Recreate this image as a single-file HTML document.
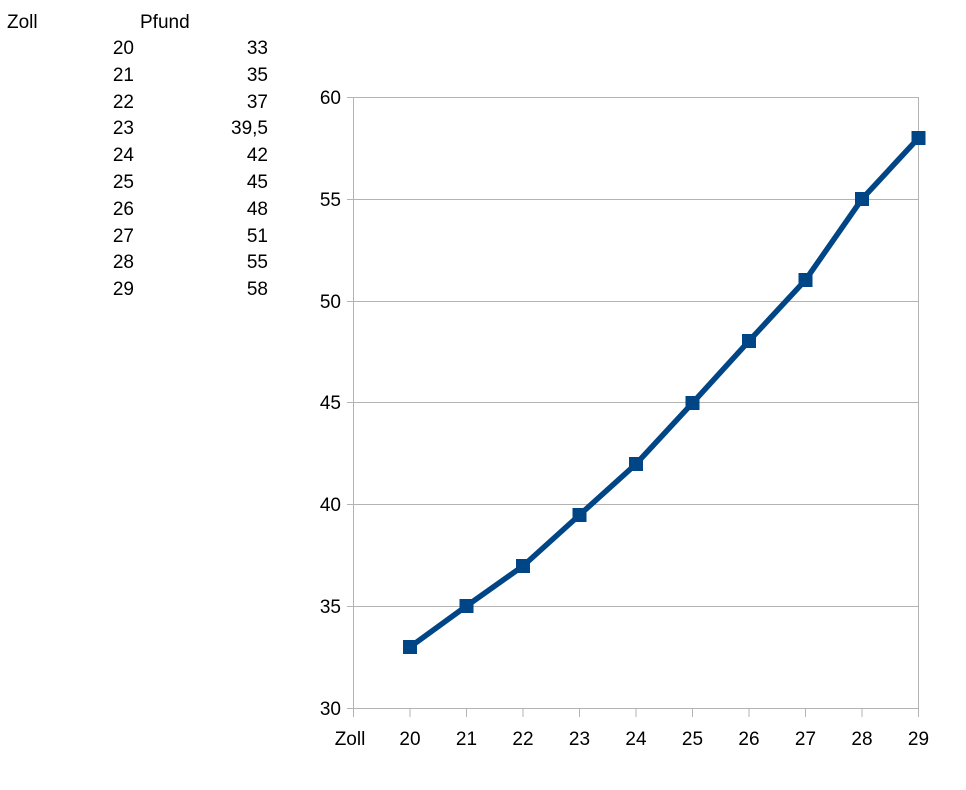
<!DOCTYPE html>
<html><head><meta charset="utf-8"><style>
html,body{margin:0;padding:0;background:#fff;}
svg{display:block;font-family:"Liberation Sans",Arial,sans-serif;}
</style></head><body>
<svg width="966" height="790" xmlns="http://www.w3.org/2000/svg">
<g font-size="19" fill="#000">
<text x="7" y="28">Zoll</text>
<text x="140" y="28">Pfund</text>
<g text-anchor="end">
<text x="134" y="54">20</text><text x="268" y="54">33</text>
<text x="134" y="81">21</text><text x="268" y="81">35</text>
<text x="134" y="108">22</text><text x="268" y="108">37</text>
<text x="134" y="134">23</text><text x="268" y="134">39,5</text>
<text x="134" y="161">24</text><text x="268" y="161">42</text>
<text x="134" y="188">25</text><text x="268" y="188">45</text>
<text x="134" y="215">26</text><text x="268" y="215">48</text>
<text x="134" y="242">27</text><text x="268" y="242">51</text>
<text x="134" y="268">28</text><text x="268" y="268">55</text>
<text x="134" y="295">29</text><text x="268" y="295">58</text>
</g>
</g>
<g stroke="#b3b3b3" stroke-width="1">
<line x1="347" y1="97.5" x2="918.5" y2="97.5"/>
<line x1="347" y1="199.5" x2="918.5" y2="199.5"/>
<line x1="347" y1="301.5" x2="918.5" y2="301.5"/>
<line x1="347" y1="402.5" x2="918.5" y2="402.5"/>
<line x1="347" y1="504.5" x2="918.5" y2="504.5"/>
<line x1="347" y1="606.5" x2="918.5" y2="606.5"/>
<line x1="347" y1="708.5" x2="918.5" y2="708.5"/>
<line x1="353.5" y1="97" x2="353.5" y2="717"/>
<line x1="918.5" y1="97" x2="918.5" y2="717"/>
<line x1="410" y1="708" x2="410" y2="717"/>
<line x1="466.5" y1="708" x2="466.5" y2="717"/>
<line x1="523" y1="708" x2="523" y2="717"/>
<line x1="579.5" y1="708" x2="579.5" y2="717"/>
<line x1="636" y1="708" x2="636" y2="717"/>
<line x1="692.5" y1="708" x2="692.5" y2="717"/>
<line x1="749" y1="708" x2="749" y2="717"/>
<line x1="805.5" y1="708" x2="805.5" y2="717"/>
<line x1="862" y1="708" x2="862" y2="717"/>
</g>
<g font-size="19" text-anchor="end">
<text x="341" y="104">60</text>
<text x="341" y="206">55</text>
<text x="341" y="308">50</text>
<text x="341" y="409">45</text>
<text x="341" y="511">40</text>
<text x="341" y="613">35</text>
<text x="341" y="715">30</text>
</g>
<g font-size="19" text-anchor="middle">
<text x="350" y="745">Zoll</text>
<text x="410" y="745">20</text>
<text x="466.5" y="745">21</text>
<text x="523" y="745">22</text>
<text x="579.5" y="745">23</text>
<text x="636" y="745">24</text>
<text x="692.5" y="745">25</text>
<text x="749" y="745">26</text>
<text x="805.5" y="745">27</text>
<text x="862" y="745">28</text>
<text x="918.5" y="745">29</text>
</g>
<polyline fill="none" stroke="#004586" stroke-width="5.5" stroke-linejoin="round"
points="410,647 466.5,606 523,566 579.5,515 636,464 692.5,403 749,341 805.5,280 862,199 918.5,138"/>
<g fill="#004586">
<rect x="403" y="640" width="14" height="14"/>
<rect x="459.5" y="599" width="14" height="14"/>
<rect x="516" y="559" width="14" height="14"/>
<rect x="572.5" y="508" width="14" height="14"/>
<rect x="629" y="457" width="14" height="14"/>
<rect x="685.5" y="396" width="14" height="14"/>
<rect x="742" y="334" width="14" height="14"/>
<rect x="798.5" y="273" width="14" height="14"/>
<rect x="855" y="192" width="14" height="14"/>
<rect x="911.5" y="131" width="14" height="14"/>
</g>
</svg>
</body></html>
